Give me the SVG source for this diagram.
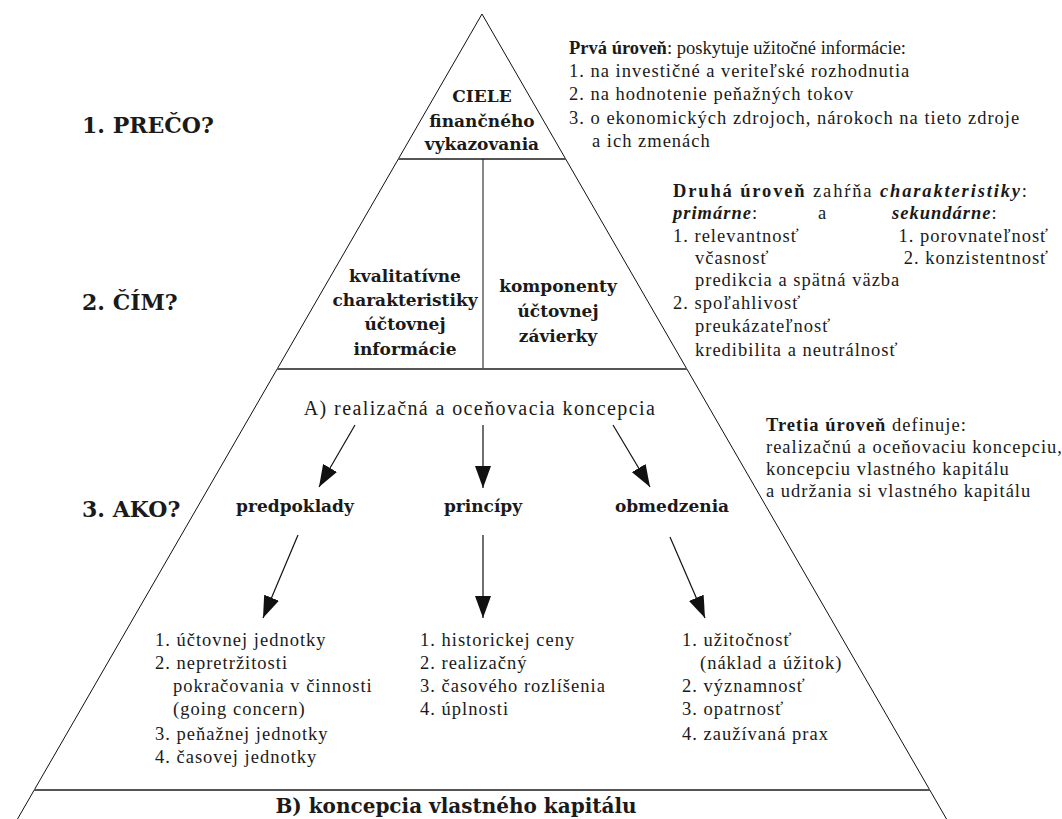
<svg xmlns="http://www.w3.org/2000/svg" width="1062" height="819" viewBox="0 0 1062 819">
<style>
text{fill:#1a1a1a}
.body{font-family:"Liberation Serif","DejaVu Serif",serif;font-size:18.5px;letter-spacing:1px}
.b{font-weight:bold}
.bi{font-weight:bold;font-style:italic}
.node{font-family:"DejaVu Serif","Liberation Serif",serif;font-size:17px;font-weight:bold;text-anchor:middle}
.lvl{font-family:"DejaVu Serif","Liberation Serif",serif;font-size:22px;font-weight:bold}
.edge{stroke:#111;stroke-width:1;fill:none}
.sep{stroke:#555;stroke-width:2.2;fill:none}
.arr{stroke:#111;stroke-width:1.2;fill:none;marker-end:url(#ah)}
</style>
<defs>
<marker id="ah" viewBox="0 0 22 16" refX="22" refY="8" markerWidth="22" markerHeight="16" markerUnits="userSpaceOnUse" orient="auto">
<path d="M0,0 L22,8 L0,16 z" fill="#111"/>
</marker>
</defs>
<rect width="1062" height="819" fill="#fff"/>
<g id="pyramid">
<path class="edge" d="M17.5,819 L482,14 L946.5,819"/>
<line class="sep" x1="398" y1="159" x2="566" y2="159"/>
<line class="edge" x1="483" y1="159" x2="483" y2="369"/>
<line class="sep" x1="277" y1="369" x2="687" y2="369"/>
<line class="sep" x1="34" y1="790" x2="930" y2="790"/>
</g>
<g id="levels">
<text class="lvl" x="82" y="133">1. PREČO?</text>
<text class="lvl" x="82" y="310">2. ČÍM?</text>
<text class="lvl" x="82" y="517">3. AKO?</text>
</g>
<g id="ciele">
<text class="node" x="482" y="102">CIELE</text>
<text class="node" x="482" y="127">finančného</text>
<text class="node" x="482" y="150">vykazovania</text>
</g>
<g id="kvalitativne">
<text class="node" x="405" y="282">kvalitatívne</text>
<text class="node" x="405" y="306">charakteristiky</text>
<text class="node" x="405" y="330">účtovnej</text>
<text class="node" x="405" y="355">informácie</text>
</g>
<g id="komponenty">
<text class="node" x="558" y="292">komponenty</text>
<text class="node" x="558" y="317">účtovnej</text>
<text class="node" x="558" y="342">závierky</text>
</g>
<g id="realizacna">
<text class="body" x="480" y="415" style="font-size:20px;letter-spacing:1.4px" text-anchor="middle">A) realizačná a oceňovacia koncepcia</text>
</g>
<g id="predpoklady"><text class="node" x="295" y="512">predpoklady</text></g>
<g id="principy"><text class="node" x="483" y="512">princípy</text></g>
<g id="obmedzenia"><text class="node" x="672" y="512">obmedzenia</text></g>
<g id="predpoklady-list">
<text class="body" x="155" y="646">1. účtovnej jednotky</text>
<text class="body" x="155" y="669">2. nepretržitosti</text>
<text class="body" x="173" y="692">pokračovania v činnosti</text>
<text class="body" x="173" y="715">(going concern)</text>
<text class="body" x="155" y="740">3. peňažnej jednotky</text>
<text class="body" x="155" y="763">4. časovej jednotky</text>
</g>
<g id="principy-list">
<text class="body" x="420" y="646">1. historickej ceny</text>
<text class="body" x="420" y="669">2. realizačný</text>
<text class="body" x="420" y="692">3. časového rozlíšenia</text>
<text class="body" x="420" y="715">4. úplnosti</text>
</g>
<g id="obmedzenia-list">
<text class="body" x="682" y="646">1. užitočnosť</text>
<text class="body" x="700" y="669">(náklad a úžitok)</text>
<text class="body" x="682" y="692">2. významnosť</text>
<text class="body" x="682" y="715">3. opatrnosť</text>
<text class="body" x="682" y="740">4. zaužívaná prax</text>
</g>
<g id="koncepcia-b">
<text class="node" x="456" y="813" style="font-size:20px">B) koncepcia vlastného kapitálu</text>
</g>
<g id="prva-uroven">
<text class="body" x="569" y="54" textLength="338" lengthAdjust="spacing"><tspan class="b">Prvá úroveň</tspan>: poskytuje užitočné informácie:</text>
<text class="body" x="569" y="77">1. na investičné a veriteľské rozhodnutia</text>
<text class="body" x="569" y="100">2. na hodnotenie peňažných tokov</text>
<text class="body" x="569" y="124">3. o ekonomických zdrojoch, nárokoch na tieto zdroje</text>
<text class="body" x="592" y="147">a ich zmenách</text>
</g>
<g id="druha-uroven">
<text class="body" x="673" y="197" textLength="355" lengthAdjust="spacing"><tspan class="b">Druhá úroveň</tspan> zahŕňa <tspan class="bi">charakteristiky</tspan>:</text>
<text class="body" x="673" y="219"><tspan class="bi">primárne</tspan>:</text>
<text class="body" x="818" y="219">a</text>
<text class="body" x="892" y="219"><tspan class="bi">sekundárne</tspan>:</text>
<text class="body" x="673" y="242">1. relevantnosť</text>
<text class="body" x="1049" y="242" text-anchor="end">1. porovnateľnosť</text>
<text class="body" x="695" y="264">včasnosť</text>
<text class="body" x="1049" y="264" text-anchor="end">2. konzistentnosť</text>
<text class="body" x="695" y="286">predikcia a spätná väzba</text>
<text class="body" x="673" y="309">2. spoľahlivosť</text>
<text class="body" x="695" y="332">preukázateľnosť</text>
<text class="body" x="695" y="356">kredibilita a neutrálnosť</text>
</g>
<g id="tretia-uroven">
<text class="body" x="766" y="431"><tspan class="b">Tretia úroveň</tspan> definuje:</text>
<text class="body" x="766" y="453">realizačnú a oceňovaciu koncepciu,</text>
<text class="body" x="766" y="475">koncepciu vlastného kapitálu</text>
<text class="body" x="766" y="497">a udržania si vlastného kapitálu</text>
</g>
<g id="connectors">
<line class="arr" x1="355" y1="425" x2="319" y2="487"/>
<line class="arr" x1="483" y1="425" x2="483" y2="488"/>
<line class="arr" x1="613" y1="425" x2="650" y2="487"/>
<line class="arr" x1="298" y1="535" x2="263" y2="618"/>
<line class="arr" x1="483" y1="535" x2="483" y2="618"/>
<line class="arr" x1="670" y1="537" x2="705" y2="618"/>
</g>
</svg>
